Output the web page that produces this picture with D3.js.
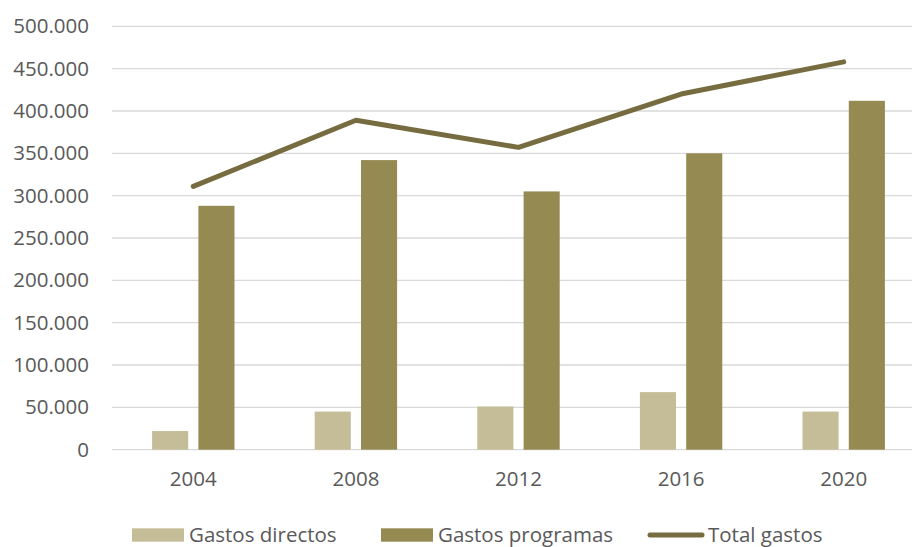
<!DOCTYPE html>
<html>
<head>
<meta charset="utf-8">
<script src="https://cdn.jsdelivr.net/npm/d3@7"></script>
<style>
    body { margin: 0; background: #fff; }
    svg text { font-family: "Open Sans", sans-serif; fill: #595959; }
</style>
</head>
<body>
<svg id="chart"></svg>
<script>
// Data
const years = ['2004', '2008', '2012', '2016', '2020'];
const gastosDirectos = [22000, 45000, 51000, 68000, 45000];
const gastosProgramas = [288000, 342000, 305000, 350000, 412000];
const totalGastos = [311000, 389000, 357000, 420000, 458000];
const yTicks = [0, 50000, 100000, 150000, 200000, 250000, 300000, 350000, 400000, 450000, 500000];

const seriesNames = ['Gastos directos', 'Gastos programas'];
const colors = {
    directos: '#c5bd97',
    programas: '#958a52',
    total: '#766c40'
};

const config = {
    width: 912,
    height: 547,
    plotLeft: 112,
    plotRight: 925,
    plotTop: 26.3,
    plotBottom: 449.7
};

const svg = d3.select('#chart')
    .attr('width', config.width)
    .attr('height', config.height);

// Scales
const xScale = d3.scaleBand()
    .domain(years)
    .range([config.plotLeft, config.plotRight]);

const groupWidth = 82.4;
const xInner = d3.scaleBand()
    .domain(seriesNames)
    .range([-groupWidth / 2, groupWidth / 2])
    .paddingInner(0.22);

const yScale = d3.scaleLinear()
    .domain([0, 500000])
    .range([config.plotBottom, config.plotTop]);

const locale = d3.formatLocale({decimal: ',', thousands: '.', grouping: [3], currency: ['', '€']});
const fmt = locale.format(',d');

// Gridlines
svg.append('g')
    .selectAll('line')
    .data(yTicks)
    .join('line')
    .attr('x1', config.plotLeft)
    .attr('x2', config.width)
    .attr('y1', d => yScale(d))
    .attr('y2', d => yScale(d))
    .attr('stroke', '#d9d9d9')
    .attr('stroke-width', 1.3);

// Y axis labels
const yAxis = d3.axisLeft(yScale)
    .tickValues(yTicks)
    .tickFormat(fmt)
    .tickSize(0)
    .tickPadding(0);

svg.append('g')
    .attr('transform', 'translate(89,0)')
    .call(yAxis)
    .call(g => g.select('.domain').remove())
    .selectAll('text')
    .style('font-size', '20.5px')
    .attr('fill', '#595959');

// X axis labels
const xAxis = d3.axisBottom(xScale)
    .tickSize(0)
    .tickPadding(0);

svg.append('g')
    .attr('transform', `translate(0,${config.plotBottom + 22})`)
    .call(xAxis)
    .call(g => g.select('.domain').remove())
    .selectAll('text')
    .style('font-size', '20.5px')
    .attr('fill', '#595959');

// Bars
const barData = [];
years.forEach((y, i) => {
    barData.push({year: y, series: seriesNames[0], value: gastosDirectos[i], color: colors.directos});
    barData.push({year: y, series: seriesNames[1], value: gastosProgramas[i], color: colors.programas});
});

svg.append('g')
    .selectAll('.bar')
    .data(barData)
    .join('rect')
    .attr('class', 'bar')
    .attr('x', d => xScale(d.year) + xScale.bandwidth() / 2 + xInner(d.series))
    .attr('width', xInner.bandwidth())
    .attr('y', d => yScale(d.value))
    .attr('height', d => yScale(0) - yScale(d.value))
    .attr('fill', d => d.color);

// Total line
const line = d3.line()
    .x((d, i) => xScale(years[i]) + xScale.bandwidth() / 2)
    .y(d => yScale(d));

svg.append('path')
    .datum(totalGastos)
    .attr('d', line)
    .attr('fill', 'none')
    .attr('stroke', colors.total)
    .attr('stroke-width', 5)
    .attr('stroke-linecap', 'round')
    .attr('stroke-linejoin', 'round');

// Legend
const legend = svg.append('g');
const legendItems = [
    {label: 'Gastos directos', type: 'rect', color: colors.directos, x: 132},
    {label: 'Gastos programas', type: 'rect', color: colors.programas, x: 381},
    {label: 'Total gastos', type: 'line', color: colors.total, x: 648}
];

legendItems.forEach(item => {
    if (item.type === 'rect') {
        legend.append('rect')
            .attr('x', item.x)
            .attr('y', 528.3)
            .attr('width', 52)
            .attr('height', 13.4)
            .attr('fill', item.color);
    } else {
        legend.append('line')
            .attr('x1', item.x + 2)
            .attr('x2', item.x + 54)
            .attr('y1', 535)
            .attr('y2', 535)
            .attr('stroke', item.color)
            .attr('stroke-width', 5)
            .attr('stroke-linecap', 'round');
    }
    legend.append('text')
        .attr('x', item.x + (item.type === 'rect' ? 57 : 60))
        .attr('y', 542.3)
        .style('font-size', '20.5px')
        .text(item.label);
});
</script>
</body>
</html>
